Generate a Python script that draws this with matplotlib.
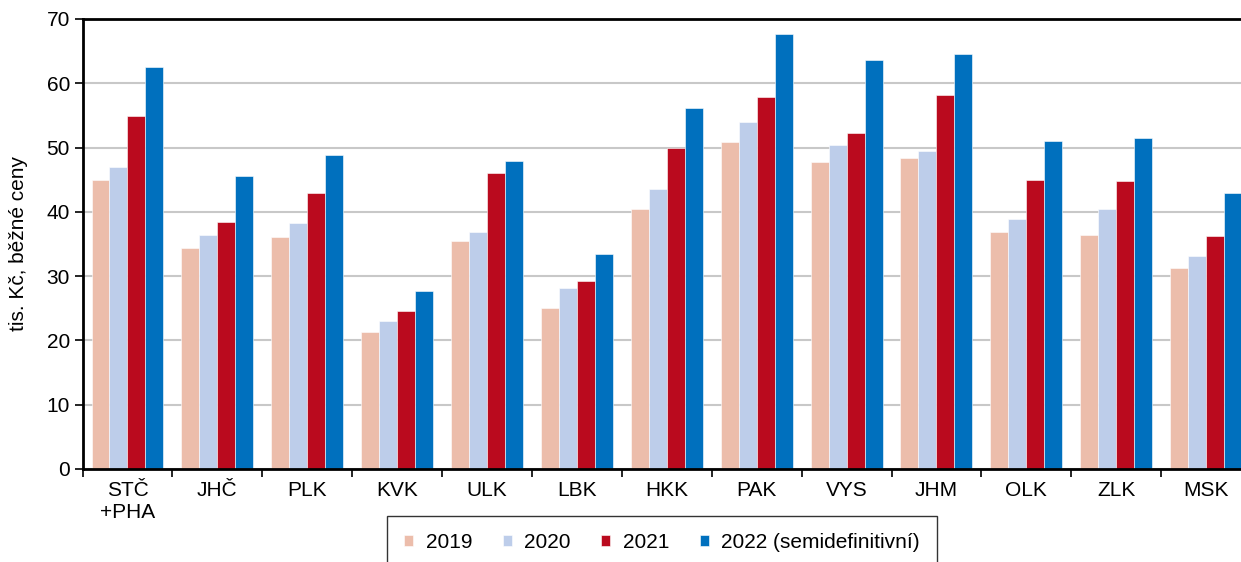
import numpy as np
from matplotlib import pyplot as plt

regions = ['STČ\n+PHA', 'JHČ', 'PLK', 'KVK', 'ULK', 'LBK', 'HKK',
           'PAK', 'VYS', 'JHM', 'OLK', 'ZLK', 'MSK']
years = ['2019', '2020', '2021', '2022 (semidefinitivní)']

v2019 = [45.0, 34.4, 36.1, 21.3, 35.4, 25.1, 40.4, 50.8, 47.7, 48.4, 36.9, 36.4, 31.2]
v2020 = [47.0, 36.4, 38.3, 23.0, 36.9, 28.1, 43.5, 53.9, 50.4, 49.5, 38.9, 40.4, 33.1]
v2021 = [54.9, 38.4, 42.9, 24.6, 46.1, 29.3, 50.0, 57.8, 52.2, 58.1, 44.9, 44.8, 36.2]
v2022 = [62.5, 45.6, 48.9, 27.7, 47.9, 33.4, 56.2, 67.7, 63.6, 64.6, 51.0, 51.5, 43.0]

colors = ['#ecbdab', '#bdcdea', '#ba0a1e', '#0070be']

plt.rcParams['font.family'] = ['Liberation Sans', 'DejaVu Sans']
plt.rcParams['font.size'] = 15

fig = plt.figure(figsize=(12.41, 5.62), dpi=100)
ax = fig.add_axes([0.0665, 0.1655, 0.9416, 0.8007])

x = np.arange(len(regions))
w = 0.2
for i, (vals, c, lab) in enumerate(zip([v2019, v2020, v2021, v2022], colors, years)):
    ax.bar(x + (i - 1.5) * w, vals, width=w, color=c, label=lab,
           edgecolor='white', linewidth=0.4, zorder=2)

ax.set_xlim(-0.5, len(regions) - 0.5)
ax.set_ylim(0, 70)
ax.set_yticks(range(0, 71, 10))
ax.yaxis.grid(True, color='#c8c8c8', linewidth=1.5, zorder=0)

# ticks on group borders, labels in the middle
ax.set_xticks(np.arange(-0.5, len(regions), 1))
ax.set_xticklabels([])
ax.set_xticks(x, minor=True)
ax.set_xticklabels(regions, minor=True)
ax.tick_params(axis='x', which='major', length=6, width=1.2, direction='out')
ax.tick_params(axis='x', which='minor', length=0, pad=9)
ax.tick_params(axis='y', length=6, width=1.2, pad=3)

for s in ['left', 'bottom', 'top']:
    ax.spines[s].set_linewidth(2)
    ax.spines[s].set_zorder(5)
ax.spines['right'].set_visible(False)

fig.text(19 / 1241, 1 - 244 / 562, 'tis. Kč, běžné ceny', rotation=90,
         ha='center', va='center', fontsize=15)

leg = ax.legend(loc='upper center', bbox_to_anchor=(662 / 1241, 1 - 516 / 562),
                bbox_transform=fig.transFigure, ncol=4, frameon=True, fancybox=False,
                edgecolor='black', handlelength=0.45, handleheight=0.45,
                columnspacing=1.45, handletextpad=0.6, borderpad=0.8,
                borderaxespad=0)
leg.get_frame().set_linewidth(1.0)

fig.savefig('out.png', dpi=100)
